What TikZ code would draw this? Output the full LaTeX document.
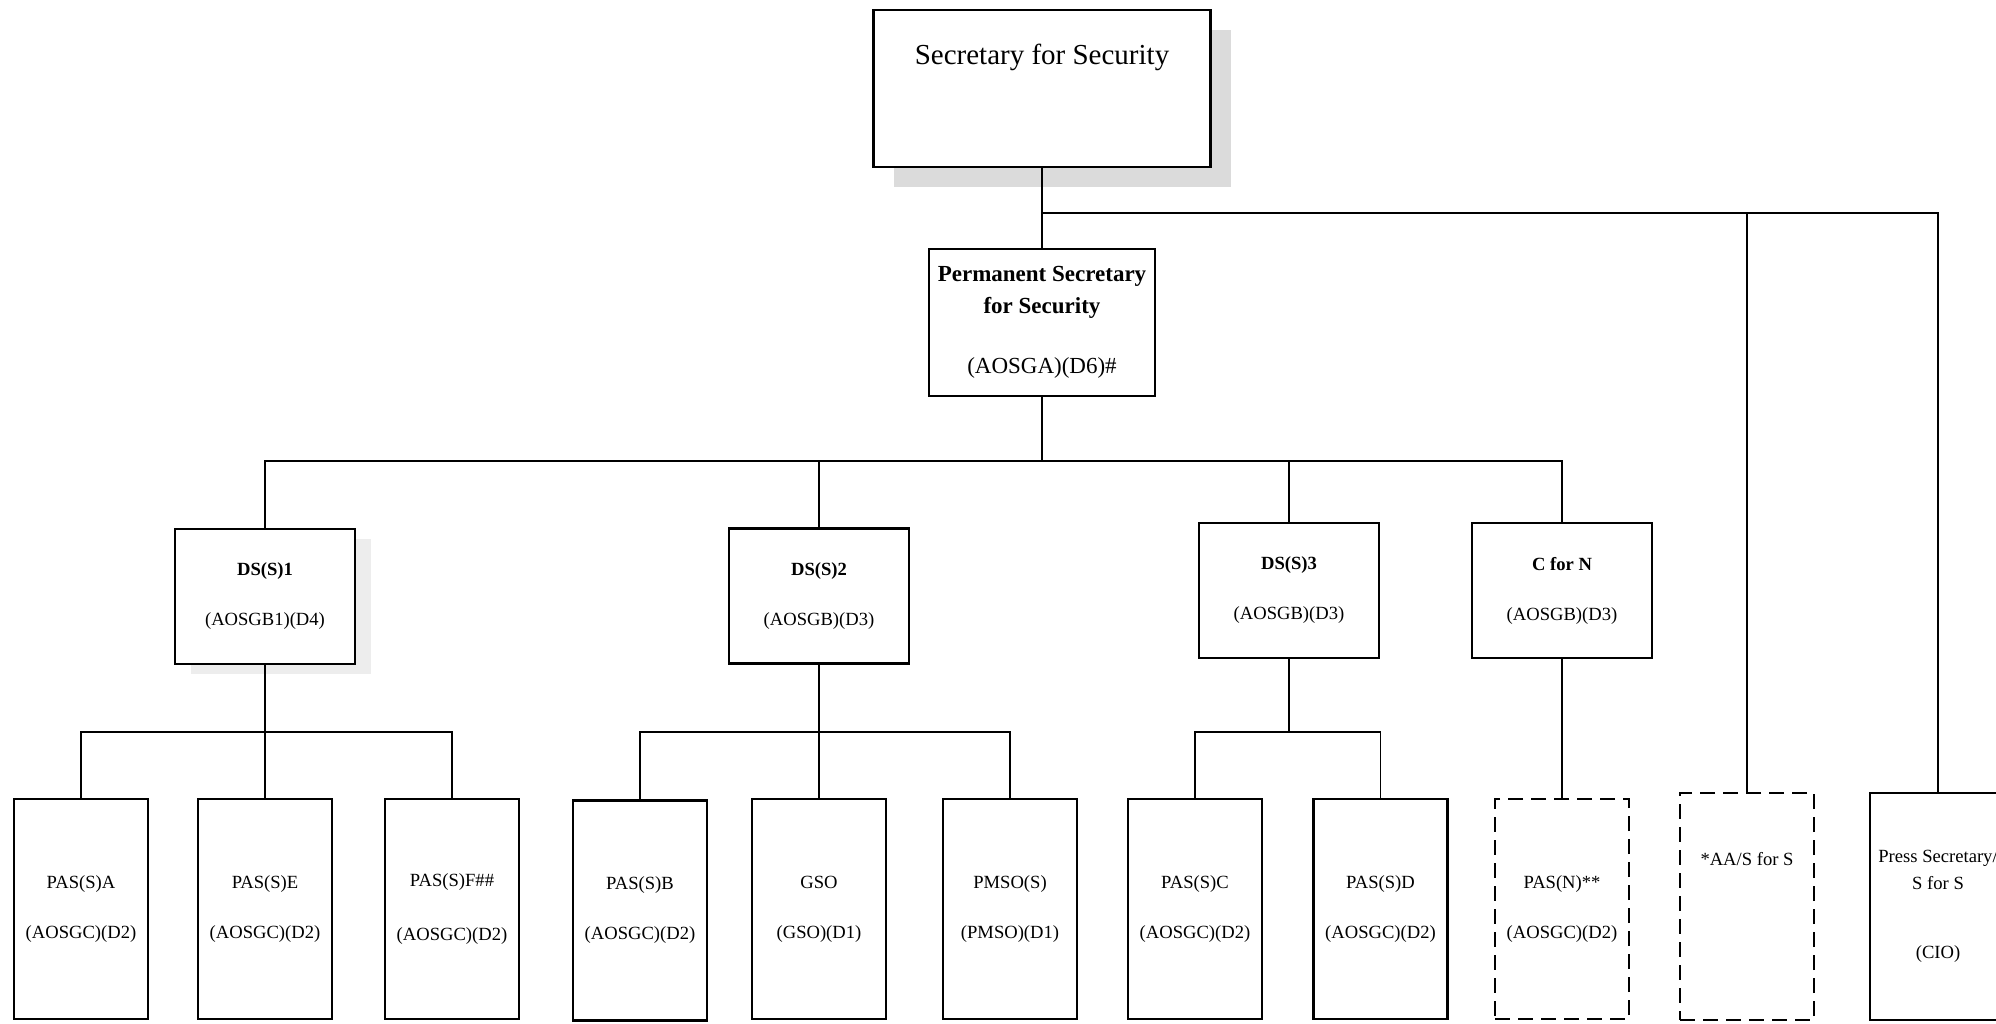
\documentclass[tikz,border=0pt]{standalone}
\usepackage{fontspec}
\setmainfont{Liberation Serif}
\usetikzlibrary{shadows}

\begin{document}
\begin{tikzpicture}[
  x=0.5pt, y=-0.5pt,
  office/.style={
    draw, fill=white, line width=1.4pt, align=center, inner sep=2pt
  },
  topbox/.style={
    office, minimum width=168.5pt, minimum height=78.5pt,
    font=\fontsize{14.5}{17}\selectfont, text height=10pt, text depth=34pt,
    drop shadow={opacity=1, fill=black!14, shadow xshift=10pt, shadow yshift=-10pt}
  },
  permbox/.style={
    office, minimum width=113pt, minimum height=73.5pt,
    font=\fontsize{11.5}{16}\selectfont
  },
  midbox/.style={
    office, minimum width=90pt, minimum height=67.5pt,
    font=\fontsize{9.3}{12}\selectfont
  },
  lowbox/.style={
    office, line width=1.3pt, minimum width=67pt, minimum height=110pt,
    font=\fontsize{9.3}{12}\selectfont
  },
  vacant/.style={lowbox, dash pattern=on 7.5pt off 4pt},
  link/.style={line width=0.7pt},
]

% Page frame
\useasboundingbox (0,0) rectangle (1996,1023);
\clip (0,0) rectangle (1996,1023);

% =============================================
% Top: Secretary and Permanent Secretary
% =============================================
\node[topbox] (sec) at (1042,88.5) {Secretary for Security};

\node[permbox] (perm) at (1042,322.5)
  {\textbf{Permanent Secretary}\\\textbf{for Security}\\[14pt](AOSGA)(D6)\#};

% =============================================
% Deputy level
% =============================================
\node[midbox, drop shadow={opacity=1, fill=black!7, shadow xshift=8pt, shadow yshift=-5pt}]
  (ds1) at (265,596.5) {\textbf{DS(S)1}\\[13pt](AOSGB1)(D4)};
\node[midbox] (ds2) at (819,596) {\textbf{DS(S)2}\\[13pt](AOSGB)(D3)};
\node[midbox] (ds3) at (1289,590.5) {\textbf{DS(S)3}\\[13pt](AOSGB)(D3)};
\node[midbox] (cfn) at (1562,590.5) {\textbf{C for N}\\[13pt](AOSGB)(D3)};

% =============================================
% Bottom row
% =============================================
\node[lowbox] (pas-a) at (81,909) {PAS(S)A\\[13pt](AOSGC)(D2)};
\node[lowbox] (pas-e) at (265,909) {PAS(S)E\\[13pt](AOSGC)(D2)};
\node[lowbox] (pas-f) at (452,909) {PAS(S)F\#\#\\[15pt](AOSGC)(D2)};

\node[lowbox] (pas-b) at (640,910.5) {PAS(S)B\\[13pt](AOSGC)(D2)};
\node[lowbox] (gso) at (819,909) {GSO\\[13pt](GSO)(D1)};
\node[lowbox] (pmso) at (1010,909) {PMSO(S)\\[13pt](PMSO)(D1)};

\node[lowbox] (pas-c) at (1195,909) {PAS(S)C\\[13pt](AOSGC)(D2)};
\node[lowbox] (pas-d) at (1380.5,909) {PAS(S)D\\[13pt](AOSGC)(D2)};

\node[vacant] (pas-n) at (1562,909) {PAS(N)**\\[13pt](AOSGC)(D2)};

\node[vacant, minimum height=113.5pt, text height=7pt, text depth=48.5pt]
  (aas) at (1747,906.5) {*AA/S for S};
\node[lowbox, minimum width=68pt, minimum height=113.5pt] (press) at (1938,906.5)
  {Press Secretary/\\[1.5pt]S for S\\[22.5pt](CIO)};

% =============================================
% Connectors
% =============================================
\coordinate (bus0) at (1042,213);
\coordinate (bus1) at (1042,461);
\coordinate (bus2) at (265,732);
\coordinate (bus3) at (819,732);
\coordinate (bus4) at (1289,732);

\draw[link] (sec) -- (perm);
\draw[link] (bus0) -| (press.north);
\draw[link] (aas.north) -- (aas.north |- bus0);

\draw[link] (perm) -- (bus1);
\draw[link] (ds1.north) |- (bus1) -| (cfn.north);
\draw[link] (ds2.north) -- (ds2.north |- bus1);
\draw[link] (ds3.north) -- (ds3.north |- bus1);

\draw[link] (ds1) -- (pas-e);
\draw[link] (pas-a.north) |- (bus2) -| (pas-f.north);

\draw[link] (ds2) -- (gso);
\draw[link] (pas-b.north) |- (bus3) -| (pmso.north);

\draw[link] (ds3) -- (bus4);
\draw[link] (pas-c.north) |- (bus4) -| (pas-d.north);

\draw[link] (cfn) -- (pas-n);

\end{tikzpicture}
\end{document}
